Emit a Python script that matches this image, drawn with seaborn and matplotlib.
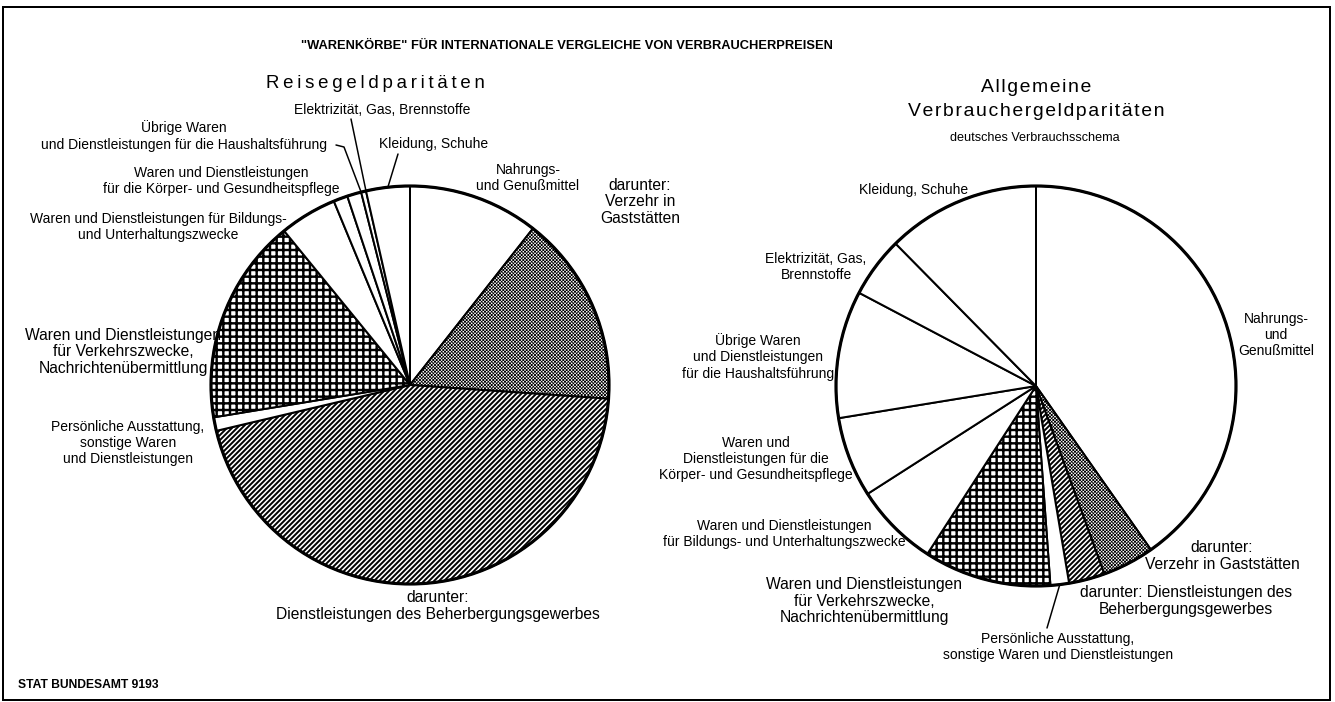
import numpy as np
import matplotlib
matplotlib.use("Agg")
import matplotlib.pyplot as plt
from matplotlib.patches import Circle, Rectangle
import seaborn as sns

# shares in percent, clockwise from 12 o'clock
categories = ["Nahrungs- und Genußmittel", "Verzehr in Gaststätten",
              "Dienstleistungen des Beherbergungsgewerbes",
              "Persönliche Ausstattung", "Verkehrszwecke, Nachrichtenübermittlung",
              "Bildungs- und Unterhaltungszwecke", "Körper- und Gesundheitspflege",
              "Haushaltsführung", "Elektrizität, Gas, Brennstoffe", "Kleidung, Schuhe"]
reise_values = [10.6, 15.5, 45.2, 1.1, 16.7, 4.65, 1.15, 1.15, 0.4, 3.55]
verbrauch_values = [40.3, 4.2, 2.9, 1.5, 10.3, 6.8, 6.5, 10.3, 4.9, 12.4]
hatches = ["", "x" * 12, "/" * 8, "", "+++", "", "", "", "", ""]
hatch_widths = [1.0, 0.45, 1.15, 1.0, 1.45, 1.0, 1.0, 1.0, 1.0, 1.0]

sns.set_theme(style="white")
plt.rcParams["font.family"] = ["Liberation Sans", "DejaVu Sans"]
plt.rcParams["text.color"] = "black"
plt.rcParams["hatch.linewidth"] = 1.0

W, H = 1335, 702
DPI = 120
fig = plt.figure(figsize=(W / DPI, H / DPI), dpi=DPI)
ax = fig.add_axes([0, 0, 1, 1])


def draw_pie(values, cx, cy, r):
    wedges, _ = ax.pie(values, center=(cx, H - cy), radius=r, startangle=90,
                       counterclock=False, colors=["white"] * len(values),
                       hatch=hatches,
                       wedgeprops=dict(edgecolor="black", linewidth=1.2))
    for w, lw in zip(wedges, hatch_widths):
        if hasattr(w, "set_hatch_linewidth"):
            w.set_hatch_linewidth(lw)
    ax.add_patch(Circle((cx, H - cy), r, fill=False, edgecolor="black", lw=1.9, zorder=5))
    return wedges


def arc_point(cx, cy, r, ang):
    a = np.deg2rad(ang)
    return cx + r * np.cos(a), H - cy + r * np.sin(a)


SMALL, LARGE = 8.3, 9.4


def label(txt, x, y, size=SMALL, ha="center", ls=1.2):
    ax.text(x, H - y, txt, ha=ha, va="center", fontsize=size, linespacing=ls,
            multialignment="center")


lc, lr = (410, 385), 199
rc, rr = (1036, 386), 200
lw_left = draw_pie(reise_values, lc[0], lc[1], lr)
lw_right = draw_pie(verbrauch_values, rc[0], rc[1], rr)

# pie() resets the limits, so fix the pixel frame afterwards
ax.set_xlim(0, W)
ax.set_ylim(0, H)
ax.set_aspect("equal")
ax.axis("off")

# titles
ax.text(567, H - 46, '"WARENKÖRBE" FÜR INTERNATIONALE VERGLEICHE VON VERBRAUCHERPREISEN',
        ha="center", va="center", fontsize=7.7, fontweight="bold")
label("\u2009".join("Reisegeldparitäten"), 375, 84, size=11.2)
label("\u200a".join("Allgemeine"), 1036, 88, size=11.6)
label("\u200a".join("Verbrauchergeldparitäten"), 1036, 112, size=11.6)
label("deutsches Verbrauchsschema", 1035, 138, size=7.6)
ax.text(18, H - 685, "STAT BUNDESAMT 9193", ha="left", va="center", fontsize=7.3,
        fontweight="bold")

# left pie labels
label("Nahrungs-\nund Genußmittel", 528, 178)
label("darunter:\nVerzehr in\nGaststätten", 640, 202, size=LARGE, ls=1.1)
label("darunter:\nDienstleistungen des Beherbergungsgewerbes", 438, 606, size=LARGE, ls=1.1)
label("Persönliche Ausstattung,\nsonstige Waren\nund Dienstleistungen", 128, 443)
label("Waren und Dienstleistungen\nfür Verkehrszwecke,\nNachrichtenübermittlung", 123, 352,
      size=LARGE, ls=1.1)
label("Waren und Dienstleistungen für Bildungs-\nund Unterhaltungszwecke", 158, 227)
label("Waren und Dienstleistungen\nfür die Körper- und Gesundheitspflege", 221, 181)
label("Übrige Waren\nund Dienstleistungen für die Haushaltsführung", 184, 136)
label("Elektrizität, Gas, Brennstoffe", 382, 110)
label("Kleidung, Schuhe", 434, 144)

# left leader lines
px, py = arc_point(lc[0], lc[1], lr, lw_left[7].theta1)
ax.plot([336, 344, px], [H - 145, H - 147, py], color="black", lw=0.9)
px, py = arc_point(lc[0], lc[1], lr, lw_left[8].theta1)
ax.plot([351, px], [H - 119, py], color="black", lw=0.9)
w = lw_left[9]
px, py = arc_point(lc[0], lc[1], lr, (w.theta1 + w.theta2) / 2)
ax.plot([398, px], [H - 154, py], color="black", lw=0.9)

# right pie labels
label("Nahrungs-\nund\nGenußmittel", 1276, 335)
label("darunter:\nVerzehr in Gaststätten", 1222, 556, size=LARGE, ls=1.1)
label("darunter: Dienstleistungen des\nBeherbergungsgewerbes", 1186, 601, size=LARGE, ls=1.1)
label("Persönliche Ausstattung,\nsonstige Waren und Dienstleistungen", 1058, 647)
label("Waren und Dienstleistungen\nfür Verkehrszwecke,\nNachrichtenübermittlung", 864, 601,
      size=LARGE, ls=1.1)
label("Waren und Dienstleistungen\nfür Bildungs- und Unterhaltungszwecke", 784, 534)
label("Waren und\nDienstleistungen für die\nKörper- und Gesundheitspflege", 756, 459)
label("Übrige Waren\nund Dienstleistungen\nfür die Haushaltsführung", 758, 357)
label("Elektrizität, Gas,\nBrennstoffe", 816, 267)
label("Kleidung, Schuhe", 914, 190)

w = lw_right[3]
px, py = arc_point(rc[0], rc[1], rr, (w.theta1 + w.theta2) / 2)
ax.plot([1047, px], [H - 628, py], color="black", lw=0.9)

# frame
ax.add_patch(Rectangle((3, 2), 1327, 693, fill=False, edgecolor="black", lw=1.2))

fig.savefig("out.png", dpi=DPI)
